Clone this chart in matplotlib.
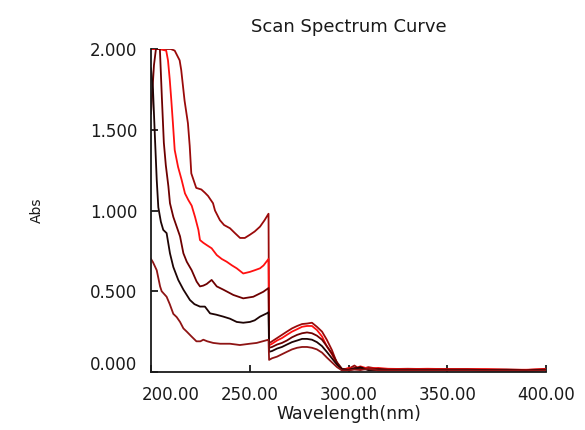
# =======================================================
# Scan spectrum curve
# =======================================================

import matplotlib
matplotlib.use("Agg")
import matplotlib.pyplot as plt
import matplotlib.transforms as mtransforms

# post-drop grid shared by every curve (nm)
wl_post = [259.8, 261.3, 263.8, 266.3, 268.8, 271.4, 274, 276.5, 279, 281.5,
           284, 286.6, 289, 291.6, 294.2, 296.7,
           300, 303, 306, 310, 315, 320, 330, 340, 350, 360, 370, 380, 390, 400]

# curve 1 (top, dark red)
wl1 = [200, 205, 210, 212, 214.5, 215.3, 217, 218.7, 219.6, 220.4, 222.9, 225.5,
       227.3, 228.9, 230, 231.4, 232.4, 234.9, 237, 240, 242.5, 245.1, 247.5,
       250.1, 252.5, 255.2, 257.5, 259.5]
a1 = [2.0, 2.0, 2.0, 1.99, 1.93, 1.87, 1.68, 1.54, 1.40, 1.23, 1.14, 1.13,
      1.11, 1.09, 1.07, 1.045, 1.0, 0.94, 0.91, 0.89, 0.86, 0.83, 0.83,
      0.85, 0.87, 0.90, 0.94, 0.98]
a1_post = [0.178, 0.19, 0.21, 0.23, 0.25, 0.27, 0.285, 0.297, 0.30, 0.305,
           0.28, 0.25, 0.20, 0.136, 0.054, 0.015,
           0.02, 0.04, 0.015, 0.03, 0.02, 0.018, 0.02, 0.018, 0.018, 0.018,
           0.016, 0.016, 0.012, 0.02]

# curve 2 (red)
wl2 = [200, 204, 207.7, 208.6, 209.5, 210.3, 211.1, 212, 213.7, 215.5, 217.2,
       218.9, 220.6, 222.3, 224, 224.8, 226.5, 228.2, 230.7, 233.3, 235.8,
       238.3, 241, 243.4, 246.7, 250.1, 252.5, 255.2, 257, 259.5]
a2 = [2.0, 2.0, 1.99, 1.93, 1.81, 1.68, 1.54, 1.375, 1.27, 1.19, 1.106,
      1.065, 1.03, 0.96, 0.88, 0.817, 0.80, 0.786, 0.766, 0.724, 0.70,
      0.683, 0.66, 0.642, 0.61, 0.62, 0.63, 0.642, 0.66, 0.70]
a2_post = [0.165, 0.175, 0.195, 0.21, 0.23, 0.25, 0.265, 0.28, 0.285, 0.285,
           0.26, 0.22, 0.16, 0.11, 0.05, 0.012,
           0.025, 0.02, 0.035, 0.02, 0.025, 0.02, 0.018, 0.02, 0.018, 0.018,
           0.018, 0.014, 0.014, 0.018]

# curve 3 (maroon)
wl3 = [200, 201.5, 202.5, 204.5, 205.5, 206.5, 207.5, 208.8, 209.6, 211.3, 213,
       214.7, 216.4, 218.1, 220.6, 223.1, 224.8, 226.5, 228.2, 230.7, 233.3,
       236.6, 241.7, 246.7, 251.8, 256.9, 259.5]
a3 = [1.6, 1.9, 2.0, 2.0, 1.7, 1.42, 1.28, 1.15, 1.045, 0.96, 0.90,
      0.84, 0.735, 0.683, 0.63, 0.56, 0.53, 0.535, 0.545, 0.57, 0.53,
      0.51, 0.477, 0.456, 0.466, 0.497, 0.52]
a3_post = [0.15, 0.155, 0.17, 0.18, 0.195, 0.215, 0.23, 0.24, 0.245, 0.24,
           0.225, 0.2, 0.16, 0.115, 0.06, 0.02,
           0.015, 0.025, 0.02, 0.015, 0.02, 0.015, 0.015, 0.015, 0.015, 0.015,
           0.012, 0.012, 0.01, 0.015]

# curve 4 (near black)
wl4 = [200, 201, 202, 202.9, 203.7, 205, 206.2, 207.9, 209.6, 211.3, 213.8,
       216.4, 219.7, 222, 224.8, 227.3, 229.9, 233, 236.6, 240, 243.4, 246.7,
       250.1, 252.5, 255.2, 258.6, 259.5]
a4 = [1.88, 1.75, 1.45, 1.19, 1.02, 0.93, 0.88, 0.86, 0.735, 0.65, 0.57,
      0.51, 0.446, 0.42, 0.405, 0.405, 0.363, 0.355, 0.343, 0.33, 0.31, 0.305,
      0.31, 0.32, 0.343, 0.363, 0.37]
a4_post = [0.125, 0.13, 0.145, 0.155, 0.17, 0.185, 0.195, 0.205, 0.205, 0.2,
           0.185, 0.16, 0.125, 0.085, 0.045, 0.015,
           0.012, 0.02, 0.03, 0.012, 0.012, 0.012, 0.012, 0.012, 0.012, 0.012,
           0.01, 0.01, 0.008, 0.012]

# curve 5 (lowest, brown red)
wl5 = [200, 201, 202.9, 204.6, 205.4, 207.9, 209.5, 211.3, 213, 214.7, 216.4,
       218.1, 220.5, 223, 225, 226.5, 228.5, 231.5, 235, 240, 245, 250, 253.5,
       256.5, 259.5]
a5 = [0.70, 0.68, 0.63, 0.53, 0.50, 0.466, 0.42, 0.36, 0.34, 0.31, 0.27,
      0.25, 0.22, 0.19, 0.19, 0.20, 0.19, 0.18, 0.175, 0.175, 0.167, 0.175, 0.18,
      0.19, 0.2]
a5_post = [0.075, 0.085, 0.095, 0.11, 0.125, 0.14, 0.15, 0.155, 0.155, 0.15,
           0.14, 0.12, 0.09, 0.06, 0.03, 0.01,
           0.01, 0.015, 0.012, 0.02, 0.01, 0.01, 0.01, 0.01, 0.01, 0.01,
           0.008, 0.008, 0.006, 0.01]

curves = [
    (wl1, a1, a1_post, "#9a0a0a"),
    (wl2, a2, a2_post, "#ff1010"),
    (wl3, a3, a3_post, "#6e0000"),
    (wl4, a4, a4_post, "#1e0404"),
    (wl5, a5, a5_post, "#8e1414"),
]

x_ticks = [200, 250, 300, 350, 400]
y_ticks = [0.0, 0.5, 1.0, 1.5, 2.0]

# =======================================================
# Plot
# =======================================================

plt.rcParams["font.family"] = ["DejaVu Sans"]

fig = plt.figure(figsize=(5.85, 4.3), dpi=100)
ax = fig.add_axes([151 / 585, 58 / 430, 395 / 585, 323 / 430])

for wl, a, a_post, color in curves:
    ax.plot(wl + wl_post, a + a_post, color=color, linewidth=1.3)

ax.set_xlim(200, 400)
ax.set_ylim(0, 2.0)
ax.set_xticks(x_ticks)
ax.set_yticks(y_ticks)
ax.set_xticklabels([f"{v:.2f}" for v in x_ticks])
ax.set_yticklabels([f"{v:.3f}" for v in y_ticks])

for side in ["top", "right"]:
    ax.spines[side].set_visible(False)
for side in ["left", "bottom"]:
    ax.spines[side].set_linewidth(1.3)
    ax.spines[side].set_color("#1a1a1a")

ax.tick_params(direction="in", length=5, width=1.3, color="#1a1a1a",
               labelsize=12, labelcolor="#1a1a1a")
ax.tick_params(axis="x", pad=10)
ax.tick_params(axis="y", pad=10)

ax.set_title("Scan Spectrum Curve", fontsize=13, color="#1a1a1a", pad=12)
ax.set_xlabel("Wavelength(nm)", fontsize=12.5, color="#1a1a1a", labelpad=1)
ax.set_ylabel("Abs", fontsize=10, color="#1a1a1a", labelpad=33)

# corner labels are nudged away from each other, like on the instrument screen
xl = ax.get_xticklabels()[0]
xl.set_transform(xl.get_transform() + mtransforms.ScaledTranslation(20 / 100, 0, fig.dpi_scale_trans))
yl = ax.get_yticklabels()[0]
yl.set_transform(yl.get_transform() + mtransforms.ScaledTranslation(0, 9 / 100, fig.dpi_scale_trans))

fig.savefig("out.png", dpi=100)
